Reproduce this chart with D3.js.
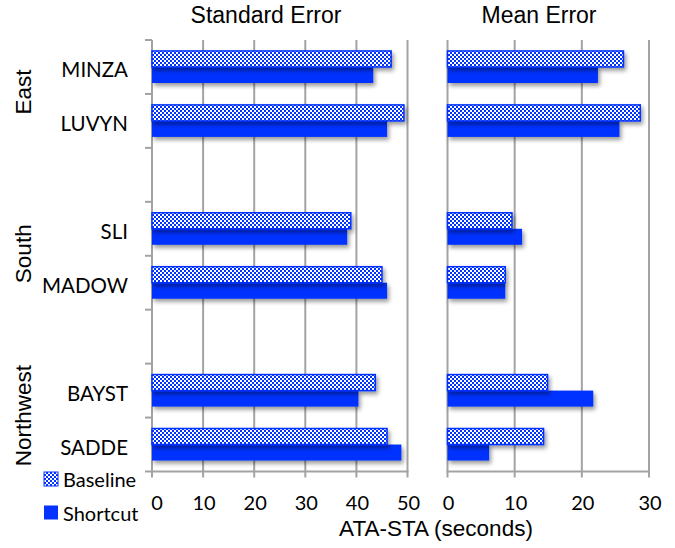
<!DOCTYPE html>
<html><head><meta charset="utf-8">
<script src="https://cdn.jsdelivr.net/npm/d3@7"></script>
<style>body{margin:0;background:#fff}</style>
</head><body>
<svg id="c" width="675" height="548"></svg>
<script>
const categories = ["MINZA","LUVYN","","SLI","MADOW","","BAYST","SADDE"];
const regions = ["East","South","Northwest"];
const regionMembers = [[0,1],[3,4],[6,7]];
const seriesNames = ["Baseline","Shortcut"];
const stdBaseline = [46.8,49.3,null,38.9,45.0,null,43.7,46.0];
const stdShortcut = [43.3,46.0,null,38.2,46.0,null,40.4,48.8];
const meanBaseline = [26.2,28.7,null,9.6,8.6,null,14.9,14.3];
const meanShortcut = [22.4,25.6,null,11.1,8.6,null,21.7,6.2];
const stdTicks = [0,10,20,30,40,50];
const meanTicks = [0,10,20,30];
const panelTitles = ["Standard Error","Mean Error"];
const xTitle = "ATA-STA (seconds)";

const BLUE = "#0433ff", GRID = "#a3a3a3";
const svg = d3.select("#c");
const defs = svg.append("defs");
const pat = defs.append("pattern").attr("id","chk").attr("patternUnits","userSpaceOnUse")
  .attr("width",4).attr("height",4);
pat.append("rect").attr("width",4).attr("height",4).attr("fill",BLUE);
pat.append("rect").attr("x",0).attr("y",0).attr("width",2).attr("height",2).attr("fill","#fff");
pat.append("rect").attr("x",2).attr("y",2).attr("width",2).attr("height",2).attr("fill","#fff");
const f = defs.append("filter").attr("id","sh").attr("x","-10%").attr("y","-30%").attr("width","130%").attr("height","180%");
f.append("feDropShadow").attr("dx",2).attr("dy",3).attr("stdDeviation",2)
  .attr("flood-color","#000").attr("flood-opacity",0.4);

const y = d3.scaleBand().domain(d3.range(categories.length)).range([40,471.5])
  .paddingInner(0.406).paddingOuter(0.203);
const sub = d3.scaleBand().domain(seriesNames).range([0,y.bandwidth()]);
const yTop = 40, yBot = 471.5;

const panels = [
  {title: panelTitles[0], ticks: stdTicks, series:[stdBaseline,stdShortcut],
   x: d3.scaleLinear().domain([0,50]).range([152,407.5]), titleX: 266, leftTicks: true},
  {title: panelTitles[1], ticks: meanTicks, series:[meanBaseline,meanShortcut],
   x: d3.scaleLinear().domain([0,30]).range([447.5,649]), titleX: 539, leftTicks: false}
];

panels.forEach((p,pi) => {
  const g = svg.append("g");
  g.selectAll(".grid").data(p.ticks).join("line")
    .attr("x1",d=>p.x(d)).attr("x2",d=>p.x(d)).attr("y1",yTop).attr("y2",yBot+6)
    .attr("stroke",GRID).attr("stroke-width",2);
  g.append("line").attr("x1",p.x(p.ticks[0])-1).attr("x2",p.x(p.ticks[p.ticks.length-1])+1)
    .attr("y1",yBot).attr("y2",yBot).attr("stroke",GRID).attr("stroke-width",2);
  if (p.leftTicks) {
    const bounds = d3.range(categories.length+1).map(i => yTop + i*y.step());
    g.selectAll(".lt").data(bounds).join("line")
      .attr("x1",p.x(0)-7).attr("x2",p.x(0)).attr("y1",d=>d).attr("y2",d=>d)
      .attr("stroke",GRID).attr("stroke-width",2);
  }
  [1,0].forEach(si => {
    const vals = p.series[si];
    g.selectAll(".b"+si).data(vals.map((v,i)=>({v,i})).filter(d=>d.v!=null)).join("rect")
      .attr("x",p.x(0)).attr("y",d=>y(d.i)+sub(seriesNames[si]))
      .attr("width",d=>p.x(d.v)-p.x(0)).attr("height",sub.bandwidth())
      .attr("fill", si===0 ? "url(#chk)" : BLUE)
      .attr("stroke", si===0 ? BLUE : "none").attr("stroke-width",1.5)
      .attr("filter","url(#sh)");
  });
  g.selectAll(".tl").data(p.ticks).join("text")
    .attr("x",(d,i)=>p.x(d)+(pi===0 && i===0 ? 5 : 1)).attr("y",510).attr("text-anchor","middle")
    .attr("font-family","Lato").attr("font-size",20).attr("fill","#000").text(d=>d);
  g.append("text").attr("x",p.titleX).attr("y",23).attr("text-anchor","middle")
    .attr("font-family","Liberation Sans").attr("font-size",23).text(p.title);
});

svg.selectAll(".cl").data(categories.map((c,i)=>({c,i})).filter(d=>d.c)).join("text")
  .attr("x",128).attr("y",d=>y(d.i)+y.bandwidth()/2+10).attr("text-anchor","end")
  .attr("font-family","Lato").attr("font-size",20.5).text(d=>d.c);

regions.forEach((r,k) => {
  const m = regionMembers[k];
  const cy = (y(m[0]) + y(m[1]) + y.bandwidth())/2 - 2;
  svg.append("text").attr("transform",`translate(31,${cy}) rotate(-90)`)
    .attr("text-anchor","middle").attr("font-family","Liberation Sans").attr("font-size",22.5).text(r);
});

svg.append("text").attr("x",436).attr("y",536).attr("text-anchor","middle")
  .attr("font-family","Liberation Sans").attr("font-size",22.5).text(xTitle);

const leg = svg.append("g");
seriesNames.forEach((s,i) => {
  leg.append("rect").attr("x",44).attr("y",472+i*33.5).attr("width",14).attr("height",14)
    .attr("fill", i===0 ? "url(#chk)" : BLUE).attr("stroke", i===0 ? BLUE : "none").attr("stroke-width",1);
  leg.append("text").attr("x",63).attr("y",487+i*33.5).attr("font-family","Lato").attr("font-size",20).text(s);
});
</script>
</body></html>
